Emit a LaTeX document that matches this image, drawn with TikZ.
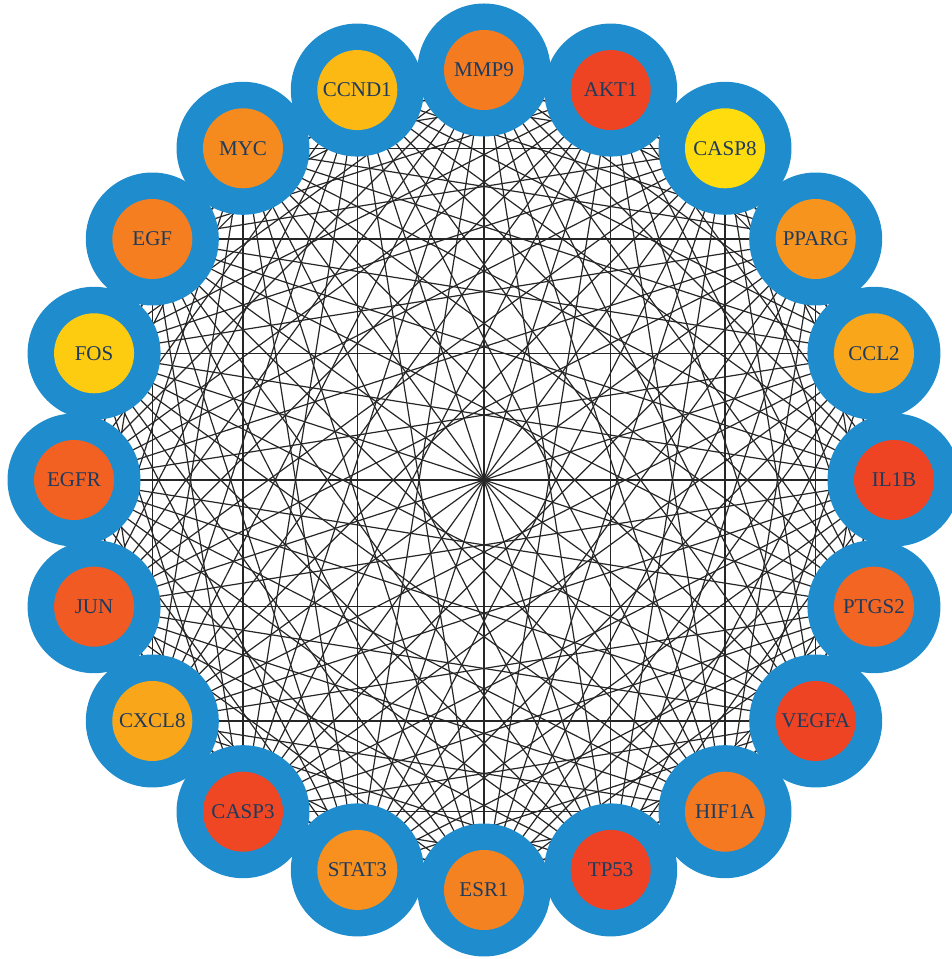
\documentclass[tikz,border=0pt]{standalone}
\usepackage{fontspec}
\setmainfont{Liberation Serif}
\usetikzlibrary{calc}
\definecolor{ringblue}{HTML}{1F8DCD}
\definecolor{txt}{HTML}{1E3A5C}
\definecolor{cA}{HTML}{F47B20}
\definecolor{cB}{HTML}{EF4423}
\definecolor{cC}{HTML}{FEDC0E}
\definecolor{cD}{HTML}{F7941D}
\definecolor{cE}{HTML}{FAA61A}
\definecolor{cF}{HTML}{EF4423}
\definecolor{cG}{HTML}{F26522}
\definecolor{cH}{HTML}{EF4423}
\definecolor{cI}{HTML}{F47920}
\definecolor{cJ}{HTML}{EF4123}
\definecolor{cK}{HTML}{F58220}
\definecolor{cL}{HTML}{F7901E}
\definecolor{cM}{HTML}{EF4623}
\definecolor{cN}{HTML}{FAA61A}
\definecolor{cO}{HTML}{F15A22}
\definecolor{cP}{HTML}{F26122}
\definecolor{cQ}{HTML}{FDCB10}
\definecolor{cR}{HTML}{F47E20}
\definecolor{cS}{HTML}{F58A1F}
\definecolor{cT}{HTML}{FDB913}
\tikzset{
  edge/.style={draw=black!85, line width=0.6pt},
  ring/.style={circle, fill=ringblue, minimum size=66.5pt, inner sep=0pt},
  gene/.style={circle, fill=#1, minimum size=40pt, inner sep=0pt, text=txt, font=\fontsize{10.5}{12}\selectfont}
}
\begin{document}
\begin{tikzpicture}
\useasboundingbox (0,0) rectangle (476pt,479.5pt);
\coordinate (c) at (242pt,239.5pt);
\foreach \i in {1,...,20}{
  \pgfmathsetmacro\ang{90-18*(\i-1)}
  \coordinate (n\i) at ($(c)+(\ang:205pt)$);
}
\foreach \i in {1,...,19}{
  \pgfmathtruncatemacro\k{\i+1}
  \foreach \j in {\k,...,20}{
    \draw[edge] (n\i) -- (n\j);
  }
}
\foreach \i in {1,...,20}{
  \node[ring] (b\i) at (n\i) {};
}
\foreach \i/\lab/\col in {1/MMP9/cA,2/AKT1/cB,3/CASP8/cC,4/PPARG/cD,5/CCL2/cE,6/IL1B/cF,7/PTGS2/cG,8/VEGFA/cH,9/HIF1A/cI,10/TP53/cJ,11/ESR1/cK,12/STAT3/cL,13/CASP3/cM,14/CXCL8/cN,15/JUN/cO,16/EGFR/cP,17/FOS/cQ,18/EGF/cR,19/MYC/cS,20/CCND1/cT}{
  \node[gene=\col] (g\i) at (b\i) {\lab};
}
\end{tikzpicture}
\end{document}
